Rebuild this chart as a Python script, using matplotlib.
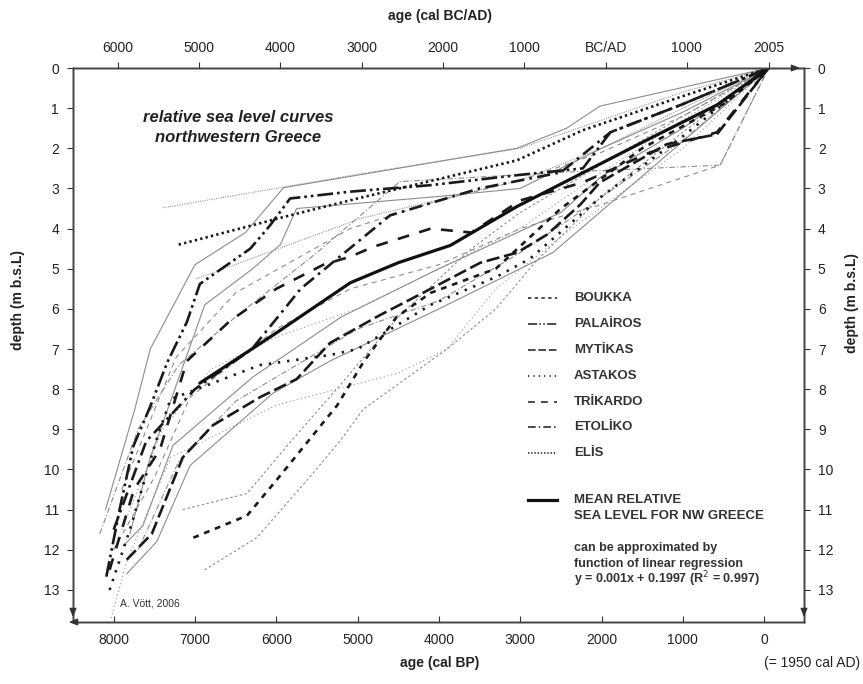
import matplotlib
matplotlib.use("Agg")
import matplotlib.pyplot as plt
from matplotlib.lines import Line2D
from matplotlib.patches import FancyArrowPatch

plt.rcParams['font.family'] = ['Liberation Sans', 'DejaVu Sans']

# ---------------- data (age cal BP, depth m b.s.L) ----------------
mean_bp = [6940, 6000, 5090, 4500, 3860, 3040, 2220, 1400, 580, -55]
mean_d = [7.85, 6.6, 5.35, 4.85, 4.42, 3.45, 2.6, 1.75, 0.92, 0.0]

boukka_bp = [7020, 6360, 5950, 5550, 5250, 4930, 4520, 4100, 3300, 2500, 1500, 500, -55]
boukka_d = [11.7, 11.15, 10.15, 9.15, 8.4, 7.33, 6.2, 5.6, 5.0, 3.5, 2.0, 0.9, 0.0]
boukka_up_bp = [7150, 6360, 5800, 5215, 4500, 3600, 3000, 2000, 1000, -55]
boukka_up_d = [11.0, 10.6, 9.25, 7.9, 6.2, 4.5, 3.6, 2.4, 1.2, 0.0]
boukka_lo_bp = [6880, 6240, 5550, 5200, 4930, 3900, 3300, 2800, 2000, 1000, -55]
boukka_lo_d = [12.5, 11.7, 10.1, 9.25, 8.5, 7.0, 6.0, 4.8, 3.2, 1.6, 0.0]

palairos_bp = [8090, 7920, 7760, 7550, 7340, 7100, 6940, 6320, 6080, 5830, 5090,
               4110, 3040, 2230, 1890, 1000, -55]
palairos_d = [12.67, 10.93, 9.43, 8.43, 7.33, 6.33, 5.38, 4.5, 3.93, 3.25, 3.08,
              2.92, 2.67, 2.5, 1.6, 0.9, 0.0]
palairos_up_bp = [8100, 7740, 7550, 7000, 6380, 5910, 5090, 3040, 2430, 2020, -55]
palairos_up_d = [11.0, 8.5, 7.0, 4.9, 4.1, 2.98, 2.7, 2.0, 1.5, 0.95, 0.0]
palairos_lo_bp = [7800, 7550, 7300, 6880, 6290, 5950, 5750, 4000, 3000, 2000, 1000, -55]
palairos_lo_d = [11.6, 9.7, 8.3, 5.9, 5.0, 4.4, 3.5, 3.2, 3.0, 2.0, 1.1, 0.0]

mytikas_bp = [7840, 7530, 7150, 6780, 6200, 5750, 5340, 4720, 4100, 3490, 3040,
              2670, 2260, 2020, 1200, 580, -55]
mytikas_d = [12.25, 11.6, 9.7, 8.9, 8.2, 7.75, 6.85, 6.15, 5.5, 4.85, 4.6,
             4.15, 3.4, 2.85, 1.9, 1.65, 0.0]
mytikas_up_bp = [7880, 7640, 7270, 6290, 5200, 4000, 2500, 2000, 1000, -55]
mytikas_up_d = [11.9, 11.4, 9.4, 7.7, 6.2, 5.0, 3.6, 2.7, 1.5, 0.0]
mytikas_lo_bp = [7840, 7470, 7060, 6040, 5340, 4000, 2600, -55]
mytikas_lo_d = [12.6, 11.8, 9.9, 8.1, 7.3, 6.0, 4.6, 0.0]

astakos_bp = [8050, 7800, 7480, 7300, 6200, 5340, 5000, 4100, 3290, 2880, 2000, 1000, -55]
astakos_d = [13.0, 11.5, 9.3, 8.25, 7.4, 7.15, 7.0, 5.9, 5.2, 4.75, 3.2, 1.7, 0.0]
astakos_up_bp = [7900, 7400, 6800, 6000, 5000, 4000, 3000, 2000, 1000, -55]
astakos_up_d = [11.5, 9.0, 7.5, 6.7, 6.0, 5.0, 4.0, 2.6, 1.3, 0.0]
astakos_lo_bp = [8030, 7840, 7300, 6000, 4500, 3900, 3300, 2500, 1000, -55]
astakos_lo_d = [13.7, 12.3, 9.7, 8.4, 7.6, 7.0, 5.5, 4.2, 2.0, 0.0]

trikardo_bp = [8050, 7750, 7430, 7100, 6570, 6000, 5420, 5090, 4800, 4100, 3600,
               3000, 2230, 1400, 580, -55]
trikardo_d = [12.5, 10.5, 9.5, 7.3, 6.3, 5.5, 4.9, 4.7, 4.45, 4.0, 4.1,
              3.3, 2.85, 2.1, 1.6, 0.0]
trikardo_up_bp = [7900, 7230, 6500, 5090, 4000, 3000, 2000, 1000, -55]
trikardo_up_d = [10.5, 7.2, 5.6, 4.0, 3.3, 2.8, 2.1, 1.2, 0.0]
trikardo_lo_bp = [8000, 7500, 7060, 6000, 5090, 4000, 3000, 2000, 540, -55]
trikardo_lo_d = [12.0, 10.2, 8.2, 6.5, 5.5, 4.9, 4.0, 3.4, 2.42, 0.0]

etoliko_bp = [8000, 7600, 7000, 6300, 5700, 5340, 4600, 3500, 2500, 1890, 1000, -55]
etoliko_d = [11.5, 9.3, 8.0, 7.0, 5.5, 4.9, 3.67, 3.0, 2.6, 1.6, 0.9, 0.0]
etoliko_up_bp = [8170, 7700, 7200, 6500, 5500, 4480, 2500, 541, -55]
etoliko_up_d = [11.6, 9.0, 7.4, 6.2, 4.6, 2.83, 2.6, 2.42, 0.0]
etoliko_lo_bp = [7700, 7200, 6500, 5000, 4000, 3000, 2200, 1000, -55]
etoliko_lo_d = [12.0, 9.8, 8.3, 6.5, 5.8, 4.6, 3.5, 1.8, 0.0]

elis_bp = [7200, 5830, 5000, 3040, 2230, 1000, -55]
elis_d = [4.4, 3.67, 3.25, 2.3, 1.55, 0.7, 0.0]
elis_up_bp = [7390, 5000, 3000, 2000, 1000, -55]
elis_up_d = [3.48, 2.65, 2.0, 1.3, 0.6, 0.0]
elis_lo_bp = [6980, 4970, 3000, 2000, 1000, -55]
elis_lo_d = [5.25, 3.75, 2.8, 2.0, 1.0, 0.0]

site_names = ["BOUKKA", "PALAİROS", "MYTİKAS", "ASTAKOS", "TRİKARDO", "ETOLİKO", "ELİS"]

bp_ticks = [8000, 7000, 6000, 5000, 4000, 3000, 2000, 1000, 0]
bcad_labels = ["6000", "5000", "4000", "3000", "2000", "1000", "BC/AD", "1000", "2005"]
bcad_pos_bp = [7950, 6950, 5950, 4950, 3950, 2950, 1950, 950, -55]
depth_ticks = list(range(0, 14))

# ---------------- styles ----------------
dash = {
    "BOUKKA": (0, (2.2, 2.2)),
    "PALAİROS": (0, (6, 1.5, 1, 1.5, 1, 1.5)),
    "MYTİKAS": (0, (5, 1.8)),
    "ASTAKOS": (0, (0.9, 2.6)),
    "TRİKARDO": (0, (4.5, 4)),
    "ETOLİKO": (0, (5, 2, 1, 2)),
    "ELİS": (0, (0.9, 1.2)),
}

sites = [
    ("BOUKKA", boukka_bp, boukka_d, boukka_up_bp, boukka_up_d, boukka_lo_bp, boukka_lo_d),
    ("PALAİROS", palairos_bp, palairos_d, palairos_up_bp, palairos_up_d, palairos_lo_bp, palairos_lo_d),
    ("MYTİKAS", mytikas_bp, mytikas_d, mytikas_up_bp, mytikas_up_d, mytikas_lo_bp, mytikas_lo_d),
    ("ASTAKOS", astakos_bp, astakos_d, astakos_up_bp, astakos_up_d, astakos_lo_bp, astakos_lo_d),
    ("TRİKARDO", trikardo_bp, trikardo_d, trikardo_up_bp, trikardo_up_d, trikardo_lo_bp, trikardo_lo_d),
    ("ETOLİKO", etoliko_bp, etoliko_d, etoliko_up_bp, etoliko_up_d, etoliko_lo_bp, etoliko_lo_d),
    ("ELİS", elis_bp, elis_d, elis_up_bp, elis_up_d, elis_lo_bp, elis_lo_d),
]

W, H = 863, 684
fig = plt.figure(figsize=(W / 100, H / 100), dpi=100)
ax = fig.add_axes([73 / W, 1 - 622 / H, (804 - 73) / W, (622 - 68) / H])

env_color = "#8c8c8c"
for name, bp, d, ubp, ud, lbp, ld in sites:
    ls = dash[name] if name not in ("PALAİROS", "MYTİKAS") else "-"
    ax.plot(ubp, ud, color=env_color, lw=0.8, linestyle=ls, zorder=2)
    ax.plot(lbp, ld, color=env_color, lw=0.8, linestyle=ls, zorder=2)
for name, bp, d, ubp, ud, lbp, ld in sites:
    ax.plot(bp, d, color="#1a1a1a", lw=1.9, linestyle=dash[name], zorder=3)

ax.plot(mean_bp, mean_d, color="#111111", lw=2.3, solid_capstyle="round",
        solid_joinstyle="round", zorder=4)

ax.set_xlim(8500, -490)
ax.set_ylim(13.8, 0)

ax.set_xticks(bp_ticks)
ax.set_xticklabels([str(t) for t in bp_ticks], fontsize=10)
ax.set_yticks(depth_ticks)
ax.set_yticklabels([str(t) for t in depth_ticks], fontsize=10)
ax.tick_params(axis="x", direction="in", length=4, width=0.8, pad=8, colors="#333333")
ax.tick_params(axis="y", direction="out", length=4, width=0.8, pad=6, colors="#333333")
for lab in ax.get_xticklabels() + ax.get_yticklabels():
    lab.set_color("#222222")

axt = ax.twiny()
axt.set_xlim(ax.get_xlim())
axt.set_xticks(bcad_pos_bp)
axt.set_xticklabels(bcad_labels, fontsize=10, color="#222222")
axt.tick_params(axis="x", direction="out", length=4, width=0.8, pad=5, colors="#333333")
for lab in axt.get_xticklabels():
    lab.set_color("#222222")

axr = ax.twinx()
axr.set_ylim(ax.get_ylim())
axr.set_yticks(depth_ticks)
axr.set_yticklabels([str(t) for t in depth_ticks], fontsize=10)
axr.tick_params(axis="y", direction="out", length=4, width=0.8, pad=6, colors="#333333")
for lab in axr.get_yticklabels():
    lab.set_color("#222222")

for a in (ax, axt, axr):
    for s in a.spines.values():
        s.set_color("#444444")
        s.set_linewidth(1.0)


def px(x, y):
    return (x / W, 1 - y / H)


arrow_kw = dict(arrowstyle="-|>,head_length=0.5,head_width=0.2", color="#333333", lw=1.0)
fig.add_artist(FancyArrowPatch(px(792, 68), px(803, 68), transform=fig.transFigure, mutation_scale=10, **arrow_kw))
fig.add_artist(FancyArrowPatch(px(76, 622), px(66, 622), transform=fig.transFigure, mutation_scale=10, **arrow_kw))
fig.add_artist(FancyArrowPatch(px(73, 608), px(73, 620), transform=fig.transFigure, mutation_scale=10, **arrow_kw))
fig.add_artist(FancyArrowPatch(px(804, 608), px(804, 620), transform=fig.transFigure, mutation_scale=10, **arrow_kw))

# axis titles
fig.text(440 / W, 1 - 16 / H, "age (cal BC/AD)", ha="center", va="center", fontsize=10, fontweight="bold", color="#222222")
fig.text(440 / W, 1 - 663 / H, "age (cal BP)", ha="center", va="center", fontsize=10, fontweight="bold", color="#222222")
fig.text(812 / W, 1 - 663 / H, "(= 1950 cal AD)", ha="center", va="center", fontsize=10, color="#222222")
fig.text(18 / W, 1 - 300 / H, "depth (m b.s.L)", ha="center", va="center", rotation=90, fontsize=10, fontweight="bold", color="#222222")
fig.text(852 / W, 1 - 303 / H, "depth (m b.s.L)", ha="center", va="center", rotation=90, fontsize=10, fontweight="bold", color="#222222")

# chart title
fig.text(238 / W, 1 - 118 / H, "relative sea level curves", ha="center", va="center", fontsize=12, fontweight="bold", style="italic", color="#222222")
fig.text(238 / W, 1 - 138 / H, "northwestern Greece", ha="center", va="center", fontsize=12, fontweight="bold", style="italic", color="#222222")

fig.text(120 / W, 1 - 604 / H, "A. Vött, 2006", ha="left", va="center", fontsize=7.5, color="#333333")

# legend
leg_y = [298, 324, 350, 376, 402, 427, 453]
for name, yy in zip(site_names, leg_y):
    fig.add_artist(Line2D([528 / W, 557 / W], [1 - yy / H, 1 - yy / H], transform=fig.transFigure,
                          color="#1a1a1a", lw=1.1, linestyle=dash[name]))
    fig.text(574 / W, 1 - yy / H, name, ha="left", va="center", fontsize=9.5, fontweight="bold", color="#333333")
fig.add_artist(Line2D([528 / W, 557 / W], [1 - 500 / H, 1 - 500 / H], transform=fig.transFigure,
                      color="#111111", lw=2.3))
fig.text(574 / W, 1 - 500 / H, "MEAN RELATIVE", ha="left", va="center", fontsize=9.5, fontweight="bold", color="#333333")
fig.text(574 / W, 1 - 516 / H, "SEA LEVEL FOR NW GREECE", ha="left", va="center", fontsize=9.5, fontweight="bold", color="#333333")
fig.text(574 / W, 1 - 548 / H, "can be approximated by", ha="left", va="center", fontsize=9, fontweight="bold", color="#333333")
fig.text(574 / W, 1 - 564 / H, "function of linear regression", ha="left", va="center", fontsize=9, fontweight="bold", color="#333333")
fig.text(574 / W, 1 - 579 / H, "y = 0.001x + 0.1997 (R$^2$ = 0.997)", ha="left", va="center", fontsize=9, fontweight="bold", color="#333333")

fig.savefig("out.png", dpi=100)
